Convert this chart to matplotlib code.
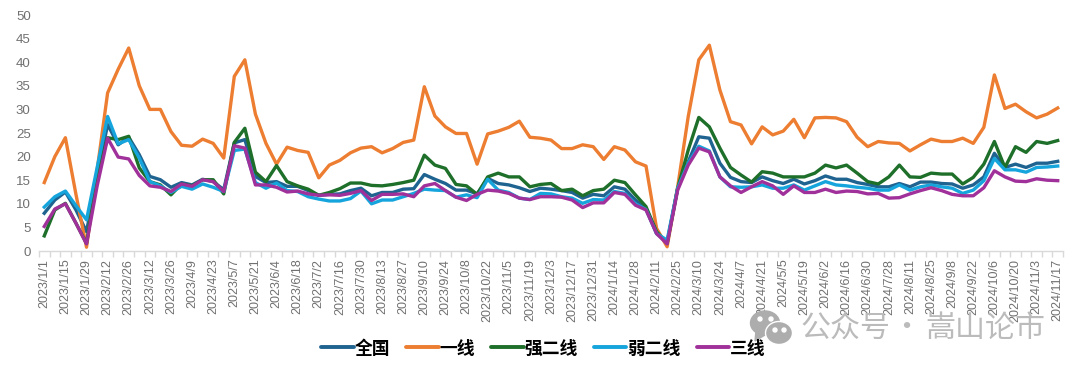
#!/usr/bin/python
# Weekly series by city tier, 2023/1/1 - 2024/11/17

import matplotlib
matplotlib.use('Agg')
import matplotlib.pyplot as plt
from matplotlib.patches import Ellipse, Polygon

plt.rcParams['font.family'] = ['Liberation Sans', 'DejaVu Sans']

# every second week carries a label
tick_labels = ['2023/1/1', '2023/1/15', '2023/1/29', '2023/2/12', '2023/2/26', '2023/3/12', '2023/3/26',
               '2023/4/9', '2023/4/23', '2023/5/7', '2023/5/21', '2023/6/4', '2023/6/18', '2023/7/2',
               '2023/7/16', '2023/7/30', '2023/8/13', '2023/8/27', '2023/9/10', '2023/9/24', '2023/10/8',
               '2023/10/22', '2023/11/5', '2023/11/19', '2023/12/3', '2023/12/17', '2023/12/31',
               '2024/1/14', '2024/1/28', '2024/2/11', '2024/2/25', '2024/3/10', '2024/3/24', '2024/4/7',
               '2024/4/21', '2024/5/5', '2024/5/19', '2024/6/2', '2024/6/16', '2024/6/30', '2024/7/28',
               '2024/8/11', '2024/8/25', '2024/9/8', '2024/9/22', '2024/10/6', '2024/10/20', '2024/11/3',
               '2024/11/17']

national = [8, 10.8, 12.5, 8.7, 4.1, 15.8, 26.8, 22.5, 24.1, 20.4,
            15.8, 15.1, 13.5, 14.5, 14, 15.2, 14.7, 13, 22.9, 23.6,
            15.8, 14.5, 14.7, 13.7, 13.7, 12.8, 11.8, 12, 12.1, 12.8,
            13.3, 11.7, 12.4, 12.4, 13.1, 13.2, 16.2, 15.2, 14.3, 12.9,
            12.9, 12.1, 15.4, 14.3, 14, 13.4, 12.6, 13.3, 13.1, 12.8,
            12.4, 11.2, 12, 11.7, 13.6, 13.1, 10.8, 9, 3.7, 1.8,
            13.3, 18.9, 24.2, 23.9, 18.6, 15.6, 14.7, 14.5, 15.7, 14.9,
            14.3, 15.2, 14.2, 14.9, 15.9, 15.2, 15.2, 14.5, 14.1, 13.6,
            13.6, 14.3, 13.6, 14.6, 14.6, 14.3, 14.2, 13.3, 14, 15.7,
            20.7, 17.7, 18.4, 17.7, 18.6, 18.6, 19]
tier1 = [14.5, 20, 24, 12, 0.8, 17, 33.5, 38.5, 43, 35,
         30, 30, 25.3, 22.4, 22.2, 23.7, 22.8, 19.7, 37, 40.5,
         29, 22.8, 18.4, 22, 21.3, 20.9, 15.5, 18.2, 19.2, 20.8,
         21.8, 22.1, 20.8, 21.7, 23, 23.5, 34.8, 28.6, 26.3, 24.9,
         24.9, 18.4, 24.8, 25.4, 26.2, 27.5, 24.1, 23.9, 23.5, 21.7,
         21.7, 22.5, 22.1, 19.4, 22.1, 21.4, 18.9, 18, 4.8, 0.9,
         13.6, 28.5, 40.5, 43.6, 34.1, 27.4, 26.7, 22.7, 26.3, 24.6,
         25.4, 27.9, 24, 28.2, 28.3, 28.2, 27.4, 24.1, 22.1, 23.2,
         22.9, 22.8, 21.2, 22.5, 23.7, 23.2, 23.2, 23.9, 22.8, 26.2,
         37.3, 30.2, 31.1, 29.5, 28.2, 29, 30.3]
strong2 = [3.2, 8.7, 10.1, 5.9, 1.6, 15.8, 24, 23.6, 24.3, 17.6,
           14.7, 14, 11.9, 14.2, 13.8, 15.1, 15.1, 12.1, 23, 26,
           16.7, 14.7, 18.1, 14.7, 13.8, 13.1, 11.8, 12.4, 13.2, 14.4,
           14.4, 13.9, 13.8, 14.1, 14.5, 15, 20.3, 18.2, 17.5, 14.1,
           13.8, 12, 15.7, 16.5, 15.7, 15.7, 13.6, 14.1, 14.3, 12.8,
           13.1, 11.7, 12.8, 13.1, 15, 14.5, 11.9, 9.4, 4.1, 1.6,
           13.3, 21.4, 28.3, 26.3, 21.8, 17.7, 16.1, 14.6, 16.8, 16.5,
           15.7, 15.7, 15.7, 16.5, 18.2, 17.6, 18.2, 16.5, 14.7, 14.2,
           15.7, 18.2, 15.7, 15.6, 16.5, 16.3, 16.3, 14.2, 15.6, 18.4,
           23.2, 17.7, 22.1, 20.9, 23.2, 22.8, 23.4]
weak2 = [9.3, 11.5, 12.7, 9.6, 6.6, 17.6, 28.5, 22.7, 23.6, 19.7,
         14.7, 13.8, 12.4, 13.7, 13.1, 14.2, 13.5, 12.6, 21.3, 21.6,
         14.5, 13.3, 14.4, 12.8, 12.6, 11.5, 11, 10.6, 10.6, 11.1,
         12.7, 10, 10.8, 10.8, 11.5, 12.2, 13.1, 12.9, 12.8, 11.4,
         11.9, 11.3, 15.2, 12.9, 12.4, 11.2, 10.9, 12.2, 12.1, 11.5,
         11.2, 10.1, 10.9, 10.8, 12.6, 12.2, 10, 8.8, 3.7, 2.3,
         13.3, 18.6, 22.2, 21.2, 15.7, 13.6, 13.5, 13.6, 14, 13.3,
         13.3, 14, 12.9, 13.8, 14.7, 14, 13.8, 13.5, 13.3, 12.9,
         12.9, 14, 12.9, 13.6, 14, 13.6, 13.3, 12.2, 12.9, 14.9,
         19.6, 17.2, 17.2, 16.7, 17.7, 17.8, 18]
tier3 = [5.2, 8.9, 10, 5.9, 1.5, 13.7, 23.9, 19.9, 19.5, 16,
         13.8, 13.5, 12.6, 14.2, 13.7, 15.1, 14.7, 12.6, 22.3, 21.8,
         14, 14, 13.5, 12.5, 12.7, 12.1, 11.8, 11.9, 11.8, 12.2,
         12.8, 10.7, 12, 12, 12.1, 11.5, 13.8, 14.3, 12.8, 11.4,
         10.7, 12, 12.9, 12.7, 12.2, 11.2, 10.9, 11.5, 11.5, 11.4,
         10.8, 9.2, 10.2, 10.2, 12.4, 12, 9.7, 8.7, 3.7, 1.5,
         12.9, 18.2, 21.8, 21, 15.7, 13.8, 12.4, 13.6, 14.7, 13.8,
         12, 13.8, 12.4, 12.4, 13.1, 12.4, 12.7, 12.6, 12.1, 12.2,
         11.2, 11.3, 12.1, 12.8, 13.4, 12.8, 12, 11.7, 11.7, 13.4,
         17, 15.7, 14.8, 14.7, 15.3, 15, 14.9]

names = ['全国', '一线', '强二线', '弱二线', '三线']
colors = ['#1F6391', '#ED7D31', '#1E6F2A', '#15A5DC', '#A0309A']
series = [national, tier1, strong2, weak2, tier3]
cjk = ['Noto Sans CJK SC', 'DejaVu Sans']

fig = plt.figure(figsize=(10.8, 3.72), dpi=100)
ax = fig.add_axes([39 / 1080, 1 - 251 / 372, 1024 / 1080, 236 / 372])

for values, name, color in zip(series, names, colors):
    ax.plot(range(len(values)), values, color=color, linewidth=2.4, label=name)

ax.set_xlim(-0.5, len(national) - 0.5)
ax.set_ylim(0, 50)
ax.set_yticks(range(0, 55, 5))
ax.set_xticks(range(0, len(national), 2))
ax.set_xticklabels(tick_labels, rotation=90, fontsize=9, color='#707070')
ax.set_xticks([i - 0.5 for i in range(len(national) + 1)], minor=True)
ax.tick_params(axis='x', which='major', length=0, pad=5.5)
ax.tick_params(axis='x', which='minor', length=4, color='#D9D9D9', width=1)
ax.tick_params(axis='y', length=0, labelsize=9.5, labelcolor='#707070', pad=6)

for side in ['top', 'right', 'left']:
    ax.spines[side].set_visible(False)
ax.spines['bottom'].set_color('#D9D9D9')
ax.spines['bottom'].set_linewidth(1)

leg = fig.legend(loc='center', bbox_to_anchor=(543.5 / 1080, 1 - 348.5 / 372), ncol=5, frameon=False,
                 prop={'family': cjk, 'size': 12.8, 'weight': 'bold'},
                 handlelength=1.83, handletextpad=0.05, columnspacing=0.9)
for line in leg.get_lines():
    line.set_linewidth(2.8)
    line.set_solid_capstyle('round')

# watermark: chat icon and account name, sits on top of the tick labels
wm = '#BBBBBB'
icon = fig.add_axes([0, 0, 1, 1], zorder=5)
icon.set_xlim(0, 1080)
icon.set_ylim(372, 0)
icon.axis('off')
icon.add_patch(Ellipse((765, 323), 29, 24, color='#ADADAD'))
icon.add_patch(Polygon([(756, 331), (755, 341), (765, 335)], color='#ADADAD'))
icon.add_patch(Ellipse((779, 333), 27, 23, facecolor='#ADADAD', edgecolor='white', linewidth=1))
for cx, cy in [(760, 319), (771, 319), (775, 330), (784, 330)]:
    icon.add_patch(Ellipse((cx, cy), 4, 4, color='white'))
for x_px, txt in [(800, '公众号'), (891, '·'), (925, '嵩山论市')]:
    fig.text(x_px / 1080, 1 - 328 / 372, txt, color=wm, fontsize=21.6, va='center', ha='left',
             family=cjk, zorder=6)

fig.savefig('out.png', dpi=100)
plt.close(fig)
